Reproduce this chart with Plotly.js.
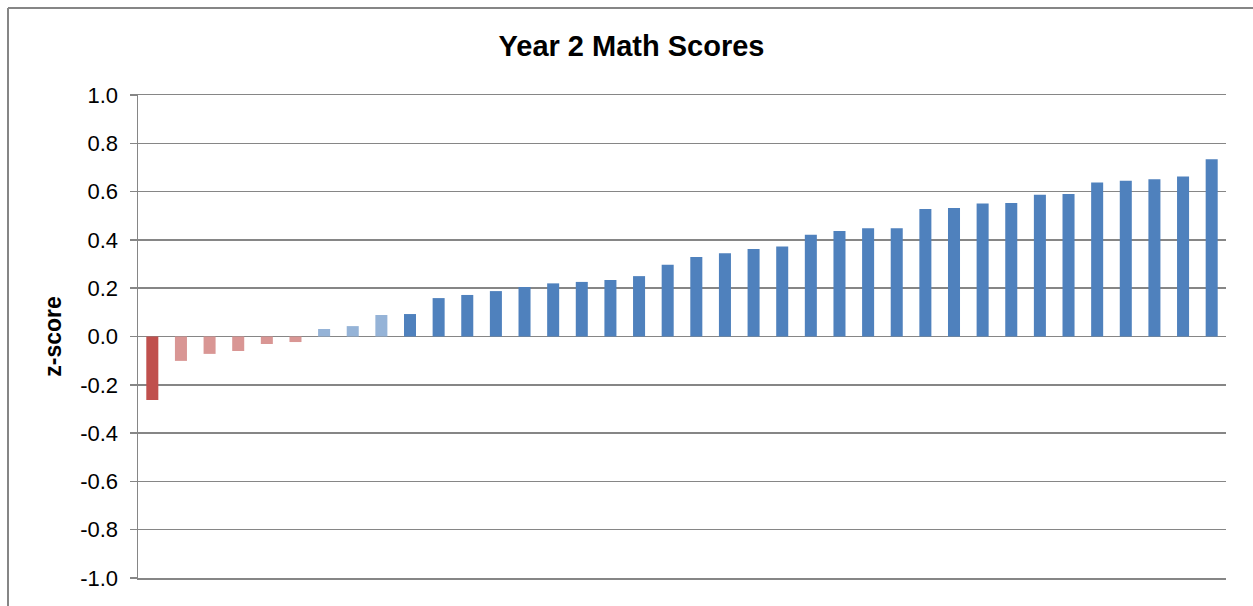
<!DOCTYPE html>
<html>
<head>
<meta charset="utf-8">
<script src="https://cdn.plot.ly/plotly-3.0.1.min.js"></script>
<style>
  html, body { margin: 0; padding: 0; background: #ffffff; }
  #chart { width: 1253px; height: 606px; }
</style>
</head>
<body>
<div id="chart"></div>
<script>
// Data
const students = Array.from({length: 38}, (_, i) => 'S' + (i + 1));
const zScores = [
  -0.263, -0.101, -0.072, -0.060, -0.031, -0.023, 0.031, 0.043, 0.089, 0.093,
  0.159, 0.172, 0.188, 0.205, 0.220, 0.226, 0.234, 0.250, 0.297, 0.329,
  0.345, 0.362, 0.373, 0.421, 0.437, 0.448, 0.448, 0.528, 0.532, 0.551,
  0.553, 0.587, 0.590, 0.638, 0.645, 0.651, 0.663, 0.734
];
const groups = [
  'lowest', 'below', 'below', 'below', 'below', 'below', 'near', 'near', 'near', 'above',
  'above', 'above', 'above', 'above', 'above', 'above', 'above', 'above', 'above', 'above',
  'above', 'above', 'above', 'above', 'above', 'above', 'above', 'above', 'above', 'above',
  'above', 'above', 'above', 'above', 'above', 'above', 'above', 'above'
];
const yTickValues = [-1.0, -0.8, -0.6, -0.4, -0.2, 0.0, 0.2, 0.4, 0.6, 0.8, 1.0];
const yTickLabels = ['-1.0', '-0.8', '-0.6', '-0.4', '-0.2', '0.0', '0.2', '0.4', '0.6', '0.8', '1.0'];

const groupColor = {
  lowest: '#C0504D',
  below: '#D99694',
  near: '#95B3D7',
  above: '#4F81BD'
};

const gray = '#868686';
const font = 'Liberation Sans, Arial, sans-serif';

const trace = {
  type: 'bar',
  x: students,
  y: zScores,
  marker: { color: groups.map(g => groupColor[g]) },
  hoverinfo: 'y'
};

const layout = {
  width: 1253,
  height: 606,
  margin: { l: 138, r: 27, t: 95, b: 28, pad: 0 },
  paper_bgcolor: '#ffffff',
  plot_bgcolor: '#ffffff',
  showlegend: false,
  bargap: 0.58,
  font: { family: font, color: '#000000' },
  title: {
    text: '<b>Year 2 Math Scores</b>',
    font: { family: font, size: 29, color: '#000000' },
    x: 0.504,
    xanchor: 'center',
    y: 0.925,
    yanchor: 'middle'
  },
  xaxis: {
    type: 'category',
    range: [-0.5, students.length - 0.5],
    showticklabels: false,
    ticks: '',
    showgrid: false,
    zeroline: false,
    showline: true,
    mirror: true,
    linecolor: gray,
    linewidth: 1.5,
    fixedrange: true
  },
  yaxis: {
    range: [-1, 1],
    tickvals: yTickValues,
    ticktext: yTickLabels,
    tickfont: { family: font, size: 22, color: '#000000' },
    ticks: 'outside',
    ticklen: 7,
    tickwidth: 1.5,
    tickcolor: gray,
    showgrid: true,
    gridcolor: gray,
    gridwidth: 1.5,
    zeroline: false,
    showline: true,
    linecolor: gray,
    linewidth: 1.5,
    ticklabelstandoff: 7,
    title: {
      text: '<b>z-score</b>',
      font: { family: font, size: 23, color: '#000000' },
      standoff: 12
    },
    fixedrange: true
  },
  shapes: [
    {
      type: 'line', xref: 'paper', yref: 'paper',
      x0: -130 / 1088, x1: 1.1, y0: 570 / 483, y1: 570 / 483,
      line: { color: gray, width: 2 }
    },
    {
      type: 'line', xref: 'paper', yref: 'paper',
      x0: -130 / 1088, x1: -130 / 1088, y0: 570 / 483, y1: -0.2,
      line: { color: gray, width: 2 }
    }
  ]
};

Plotly.newPlot('chart', [trace], layout, { displayModeBar: false, staticPlot: true });
</script>
</body>
</html>
